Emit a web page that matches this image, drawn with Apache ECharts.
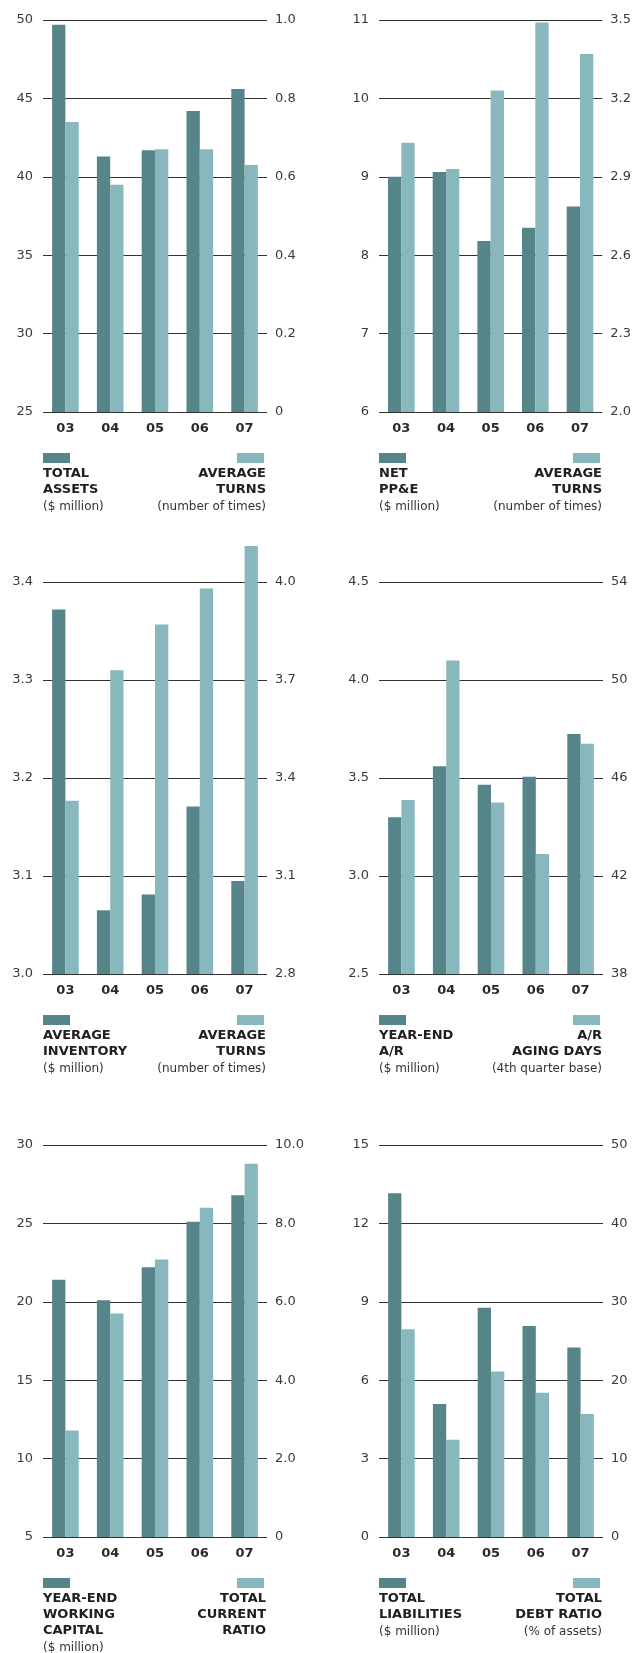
<!DOCTYPE html>
<html><head><meta charset="utf-8">
<script src="https://cdn.jsdelivr.net/npm/echarts@6/dist/echarts.min.js"></script>
<style>html,body{margin:0;padding:0;background:#fff;}#c{width:634px;height:1653px;}</style>
</head><body><div id="c"></div>
<script>
// ---- data ----
const years = ['03', '04', '05', '06', '07'];

const totalAssets = [49.7, 41.3, 41.7, 44.2, 45.6];
const assetTurns = [0.74, 0.58, 0.67, 0.67, 0.63];

const netPPE = [9.0, 9.06, 8.18, 8.35, 8.62];
const ppeTurns = [3.03, 2.93, 3.23, 3.49, 3.37];

const avgInventory = [3.372, 3.065, 3.081, 3.171, 3.095];
const inventoryTurns = [3.33, 3.73, 3.87, 3.98, 4.11];

const yearEndAR = [3.30, 3.56, 3.465, 3.507, 3.725];
const arAgingDays = [45.1, 50.8, 45.0, 42.9, 47.4];

const workingCapital = [21.4, 20.1, 22.2, 25.1, 26.8];
const currentRatio = [2.72, 5.70, 7.08, 8.40, 9.52];

const totalLiabilities = [13.15, 5.09, 8.77, 8.07, 7.25];
const debtRatio = [26.5, 12.4, 21.1, 18.4, 15.7];

// tick labels
const assetsTicks = ['25', '30', '35', '40', '45', '50'];
const assetTurnsTicks = ['0', '0.2', '0.4', '0.6', '0.8', '1.0'];
const ppeTicks = ['6', '7', '8', '9', '10', '11'];
const ppeTurnsTicks = ['2.0', '2.3', '2.6', '2.9', '3.2', '3.5'];
const inventoryTicks = ['3.0', '3.1', '3.2', '3.3', '3.4'];
const inventoryTurnsTicks = ['2.8', '3.1', '3.4', '3.7', '4.0'];
const arTicks = ['2.5', '3.0', '3.5', '4.0', '4.5'];
const agingTicks = ['38', '42', '46', '50', '54'];
const capitalTicks = ['5', '10', '15', '20', '25', '30'];
const ratioTicks = ['0', '2.0', '4.0', '6.0', '8.0', '10.0'];
const liabilitiesTicks = ['0', '3', '6', '9', '12', '15'];
const debtTicks = ['0', '10', '20', '30', '40', '50'];

const panels = [
  { l: totalAssets, r: assetTurns, lt: assetsTicks, rt: assetTurnsTicks,
    lTitle: ['TOTAL', 'ASSETS'], lSub: '($ million)', rTitle: ['AVERAGE', 'TURNS'], rSub: '(number of times)' },
  { l: netPPE, r: ppeTurns, lt: ppeTicks, rt: ppeTurnsTicks,
    lTitle: ['NET', 'PP&E'], lSub: '($ million)', rTitle: ['AVERAGE', 'TURNS'], rSub: '(number of times)' },
  { l: avgInventory, r: inventoryTurns, lt: inventoryTicks, rt: inventoryTurnsTicks,
    lTitle: ['AVERAGE', 'INVENTORY'], lSub: '($ million)', rTitle: ['AVERAGE', 'TURNS'], rSub: '(number of times)' },
  { l: yearEndAR, r: arAgingDays, lt: arTicks, rt: agingTicks,
    lTitle: ['YEAR-END', 'A/R'], lSub: '($ million)', rTitle: ['A/R', 'AGING DAYS'], rSub: '(4th quarter base)' },
  { l: workingCapital, r: currentRatio, lt: capitalTicks, rt: ratioTicks,
    lTitle: ['YEAR-END', 'WORKING', 'CAPITAL'], lSub: '($ million)', rTitle: ['TOTAL', 'CURRENT', 'RATIO'], rSub: null },
  { l: totalLiabilities, r: debtRatio, lt: liabilitiesTicks, rt: debtTicks,
    lTitle: ['TOTAL', 'LIABILITIES'], lSub: '($ million)', rTitle: ['TOTAL', 'DEBT RATIO'], rSub: '(% of assets)' }
];

// ---- style / layout ----
const DARK = '#558589';
const LIGHT = '#88b8be';
const FONT = 'DejaVu Sans';
const COLS = [43, 379];
const ROWS = [20, 582, 1145];
const W = 224, H = 392;

function axisFromTicks(ticks, gridIndex, position, showSplit) {
  const nums = ticks.map(Number);
  const interval = Math.round((nums[1] - nums[0]) * 1000) / 1000;
  return {
    type: 'value', gridIndex: gridIndex, position: position,
    min: nums[0], max: nums[nums.length - 1], interval: interval, startValue: nums[0],
    axisLine: { show: false }, axisTick: { show: false },
    splitLine: { show: showSplit, lineStyle: { color: '#333333', width: 1 } },
    axisLabel: {
      margin: position === 'left' ? 10 : 8,
      fontFamily: FONT, fontSize: 13, color: '#3a3a3a',
      formatter: function (v) {
        for (let k = 0; k < nums.length; k++) if (Math.abs(nums[k] - v) < 1e-6) return ticks[k];
        return '';
      }
    }
  };
}

const grid = [], xAxis = [], yAxis = [], series = [], graphic = [];

panels.forEach(function (p, i) {
  const left = COLS[i % 2];
  const top = ROWS[Math.floor(i / 2)];
  const bottom = top + H;
  grid.push({ left: left, top: top, width: W, height: H });
  xAxis.push({
    type: 'category', gridIndex: i, data: years,
    axisLine: { show: false }, axisTick: { show: false },
    axisLabel: { margin: 10, fontFamily: FONT, fontSize: 13, fontWeight: 'bold', color: '#2a2a2a' }
  });
  yAxis.push(axisFromTicks(p.lt, i, 'left', true));
  yAxis.push(axisFromTicks(p.rt, i, 'right', false));
  series.push({ type: 'bar', name: p.lTitle.join(' '), xAxisIndex: i, yAxisIndex: 2 * i, data: p.l,
    barWidth: 13.3, barGap: '0%', clip: false, itemStyle: { color: DARK } });
  series.push({ type: 'bar', name: p.rTitle.join(' '), xAxisIndex: i, yAxisIndex: 2 * i + 1, data: p.r,
    barWidth: 13.3, barGap: '0%', clip: false, itemStyle: { color: LIGHT } });

  // legend keys
  graphic.push({ type: 'rect', shape: { x: left, y: bottom + 41, width: 27, height: 10 }, style: { fill: DARK } });
  graphic.push({ type: 'rect', shape: { x: left + W - 30, y: bottom + 41, width: 27, height: 10 }, style: { fill: LIGHT } });

  // titles
  function addLines(lines, sub, x, align) {
    let y = bottom + 62;
    lines.forEach(function (t) {
      graphic.push({ type: 'text', x: x, y: y, style: { text: t, align: align, verticalAlign: 'middle',
        fontFamily: FONT, fontSize: 13, fontWeight: 'bold', fill: '#202020' } });
      y += 16;
    });
    if (sub) {
      graphic.push({ type: 'text', x: x, y: y + 1, style: { text: sub, align: align, verticalAlign: 'middle',
        fontFamily: FONT, fontSize: 12, fill: '#333333' } });
    }
  }
  addLines(p.lTitle, p.lSub, left, 'left');
  addLines(p.rTitle, p.rSub, left + W - 1, 'right');
});

const chart = echarts.init(document.getElementById('c'), null, { renderer: 'canvas' });
chart.setOption({
  animation: false,
  backgroundColor: '#ffffff',
  grid: grid, xAxis: xAxis, yAxis: yAxis, series: series, graphic: graphic
});
</script>
</body></html>
